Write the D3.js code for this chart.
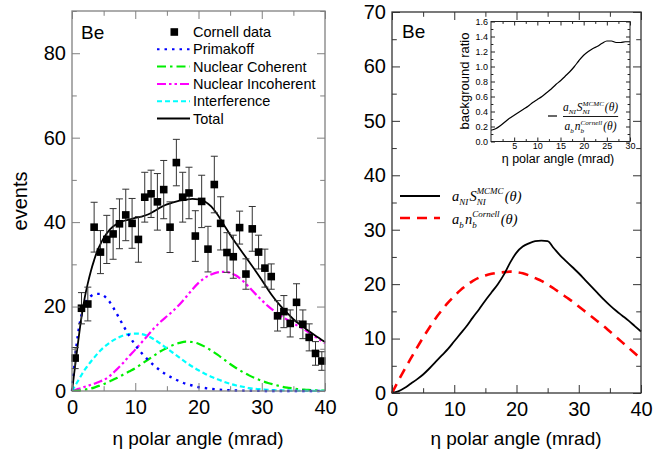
<!DOCTYPE html>
<html><head><meta charset="utf-8">
<script src="https://cdn.jsdelivr.net/npm/d3@7"></script>
<style>body{margin:0;background:#fff} svg text{font-family:"Liberation Sans",Arial,sans-serif}</style>
</head><body><svg id="c" width="653" height="457"></svg>
<script>
// ---------- DATA ----------
const dataX = [0.5,1.5,2.5,3.5,4.5,5.5,6.5,7.5,8.5,9.5,10.5,11.5,12.5,13.5,14.5,15.5,16.5,17.5,18.5,19.5,20.5,21.5,22.5,23.5,24.5,25.5,26.5,27.5,28.5,29.5,30.5,31.5,32.5,33.5,34.5,35.5,36.5,37.5,38.5,39.5];
const dataY = [7.8,19.6,20.6,38.8,32.9,35.9,37.2,39.6,41.7,39.7,35.9,45.9,46.7,44.8,47.7,38.8,54.1,45.9,46.9,36.7,44.9,33.6,48.9,39.7,32.8,31.8,38.7,27.7,38.4,32.9,29.1,27.1,17.8,18.8,16.0,21.0,15.8,12.7,8.9,7.1];
const dataErr = [2.5,3.7,4.0,5.9,5.1,5.7,6.0,5.9,6.1,5.9,5.4,5.9,5.6,6.7,6.9,6.0,5.5,5.9,6.1,6.0,6.2,5.4,6.7,6.3,4.7,5.1,3.9,3.6,5.3,4.0,4.5,3.0,3.6,3.8,3.2,4.4,3.4,3.2,2.8,2.2];

const gridX = [0,0.5,1,1.5,2,2.5,3,3.5,4,4.5,5,6,7,8,9,10,11,12,13,14,15,16,17,18,19,20,21,22,23,24,25,26,27,28,29,30,31,32,33,34,35,36,37,38,39,40];
const primakoff = [0,8,14,18,20.5,21.8,22.5,22.9,23,23,22.6,21,18.5,15.8,13.2,10.9,9,7.4,6,4.8,3.8,3,2.3,1.7,1.3,0.9,0.7,0.5,0.35,0.25,0.18,0.12,0.08,0.05,0.03,0.02,0.01,0,0,0,0,0,0,0,0,0];
const nuclearCoherent = [0,0.02,0.07,0.15,0.3,0.45,0.6,0.8,1.1,1.3,1.6,2.3,3,3.8,4.6,5.4,6.4,7.4,8.4,9.4,10.2,10.9,11.4,11.7,11.6,11.2,10.5,9.6,8.6,7.5,6.4,5.4,4.5,3.7,3,2.4,1.9,1.5,1.1,0.8,0.6,0.4,0.3,0.2,0.15,0.1];
const nuclearIncoherent = [0,0.2,0.5,0.7,1,1.2,1.5,1.7,2,2.3,2.6,3.6,5,6.5,8.2,9.8,11.5,13.2,14.9,16.4,17.7,19,20.5,22.2,24,25.6,26.8,27.6,28.1,28.2,28,27.3,26.1,24.6,23,21.5,20.1,18.9,17.8,16.9,16,15.2,14.3,13.3,12.3,11.3];
const interference = [0,1.3,2.5,3.8,5,6,7,7.9,8.8,9.6,10.3,11.5,12.4,13.1,13.5,13.6,13.5,13,12.2,11.2,10.1,9,7.9,6.8,5.8,4.9,4.1,3.4,2.8,2.2,1.7,1.3,1,0.7,0.5,0.4,0.3,0.2,0.15,0.1,0.08,0.06,0.04,0.03,0.02,0.01];
const total = [0,6,12,17.5,22,25.5,28.5,31,33.2,34.8,36.2,38.3,39.5,40.2,40.6,41,41.3,41.8,42.6,43.5,44.2,44.7,45.1,45.3,45.5,45.4,44.9,43.7,41.8,39.4,37,34.8,32.7,30.6,28.5,26.3,24,21.9,20.1,18.5,17,15.8,14.7,13.6,12.6,11.6];

const rightX = [0,1,2,3,4,5,6,7,8,9,10,11,12,13,14,15,16,17,18,19,20,21,22,23,24,25,26,27,28,29,30,31,32,33,34,35,36,37,38,39,40];
const niMCMC = [0,0.3,0.9,1.7,2.5,3.4,4.5,5.7,6.9,8.1,9.5,10.9,12.3,13.9,15.4,17,18.5,20,21.8,24,25.8,26.9,27.5,27.9,28,27.9,26.6,25.3,24.2,23.1,22,20.8,19.6,18.4,17.2,16.1,15.1,14.2,13.3,12.3,11.3];
const bCornell = [0,2.2,4.3,6.3,8.3,10.2,12,13.7,15.2,16.6,17.8,18.9,19.8,20.6,21.2,21.6,21.9,22.1,22.2,22.3,22.2,22,21.6,21.1,20.6,19.9,19.2,18.4,17.6,16.8,15.9,15,14.1,13.2,12.3,11.3,10.3,9.3,8.3,7.3,6.3];

const ratioX = [0,1,2,3,4,5,6,7,8,9,10,11,12,13,14,15,16,17,18,19,20,21,22,23,24,25,26,27,28,29,30];
const ratio = [0.15,0.17,0.21,0.26,0.31,0.35,0.39,0.43,0.47,0.52,0.56,0.6,0.65,0.7,0.76,0.81,0.87,0.93,1.0,1.08,1.15,1.2,1.24,1.27,1.31,1.34,1.34,1.32,1.32,1.33,1.33];

const leftYTicks = [0,20,40,60,80];
const rightYTicks = [0,10,20,30,40,50,60,70];
const xTicks = [0,10,20,30,40];
const insetYTicks = [0.0,0.2,0.4,0.6,0.8,1.0,1.2,1.4,1.6];
const insetXTicks = [5,10,15,20,25,30];
const legendLabels = ["Cornell data","Primakoff","Nuclear Coherent","Nuclear Incoherent","Interference","Total"];

// ---------- DRAW ----------
const svg = d3.select('#c');
const SANS = '"Liberation Sans",Arial,sans-serif';
const MATH = '"Liberation Serif","Times New Roman",serif';

function frameAxes(g, x, y, opt) {
  const [x0,x1] = x.range(), [y0,y1] = y.range();
  const col = opt.color;
  const mk = (axis, tr, major, minor, size, fmt, pad, fs) => {
    const a1 = g.append('g').attr('transform', tr).call(axis(major).tickSize(-size).tickPadding(pad).tickFormat(fmt));
    const a2 = g.append('g').attr('transform', tr).call(axis(minor).tickSize(-size*0.6).tickFormat(''));
    [a1,a2].forEach(a => { a.attr('font-family', null); a.select('.domain').remove(); a.selectAll('line').attr('stroke', col); a.selectAll('text').attr('font-size', fs).attr('fill','#000').style('font-family', SANS); });
    return a1;
  };
  const T = opt.tick;
  mk(v => d3.axisBottom(x).tickValues(v), `translate(0,${y0})`, opt.xMajor, opt.xMinor, T, opt.xFmt, opt.xPad, opt.fs);
  mk(v => d3.axisTop(x).tickValues(v), `translate(0,${y1})`, opt.xMajor, opt.xMinor, T, '', 0, opt.fs);
  mk(v => d3.axisLeft(y).tickValues(v), `translate(${x0},0)`, opt.yMajor, opt.yMinor, T, opt.yFmt, opt.yPad, opt.fs);
  mk(v => d3.axisRight(y).tickValues(v), `translate(${x1},0)`, opt.yMajor, opt.yMinor, T, '', 0, opt.fs);
  g.append('rect').attr('x',x0).attr('y',y1).attr('width',x1-x0).attr('height',y0-y1)
    .attr('fill','none').attr('stroke',col).attr('stroke-width',opt.sw||1.3);
}

function mathText(g, x, y, parts, size) {
  let cx = x;
  const grp = g.append('g');
  parts.forEach(p => {
    if (p.t !== undefined) {
      const t = grp.append('text').attr('x',cx).attr('y',y).attr('font-size',size)
        .attr('font-style', p.i ? 'italic' : 'normal').style('font-family', MATH).text(p.t);
      cx += t.node().getComputedTextLength();
    } else {
      let w = 0;
      if (p.sub) { const t = grp.append('text').attr('x',cx).attr('y',y+size*0.28).attr('font-size',size*0.62).attr('font-style','italic').style('font-family',MATH).text(p.sub); w = Math.max(w,t.node().getComputedTextLength()); }
      if (p.sup) { const t = grp.append('text').attr('x',cx).attr('y',y-size*0.45).attr('font-size',size*0.62).attr('font-style','italic').style('font-family',MATH).text(p.sup); w = Math.max(w,t.node().getComputedTextLength()); }
      cx += w + size*0.08;
    }
  });
  return {g: grp, w: cx - x};
}
const numParts = [{t:'a',i:true},{sub:'NI'},{t:'S',i:true},{sub:'NI',sup:'MCMC'},{t:'(θ)',i:true}];
const denParts = [{t:'a',i:true},{sub:'b'},{t:'n',i:true},{sub:'b',sup:'Cornell'},{t:'(θ)',i:true}];

// ===== LEFT PANEL =====
const xL = d3.scaleLinear().domain([0,40]).range([72,325]);
const yL = d3.scaleLinear().domain([0,90]).range([391,11]);
const gL = svg.append('g');

const lineL = (ys) => d3.line().x((d,i)=>xL(gridX[i])).y(d=>yL(d)).curve(d3.curveMonotoneX)(ys);
const seriesStyles = [
  {v: nuclearIncoherent, c:'#ff00ff', dash:'9,3,2.5,3,2.5,3', w:2.2},
  {v: nuclearCoherent, c:'#00ee00', dash:'9,4,2.5,4', w:2.2},
  {v: interference, c:'#00ffff', dash:'5,3', w:2.2},
  {v: primakoff, c:'#0000ff', dash:'2.5,5', w:2.4},
  {v: total, c:'#000000', dash:null, w:1.8}
];
seriesStyles.forEach(s => {
  gL.append('path').attr('d', lineL(s.v)).attr('fill','none').attr('stroke',s.c)
    .attr('stroke-width',s.w).attr('stroke-dasharray',s.dash);
});

// error bars & markers
const eb = gL.append('g').attr('stroke','#333').attr('stroke-width',1);
dataX.forEach((x,i) => {
  const cx = xL(x), top = yL(dataY[i]+dataErr[i]), bot = yL(Math.max(0,dataY[i]-dataErr[i]));
  eb.append('line').attr('x1',cx).attr('x2',cx).attr('y1',top).attr('y2',bot);
  eb.append('line').attr('x1',cx-3.5).attr('x2',cx+3.5).attr('y1',top).attr('y2',top);
  eb.append('line').attr('x1',cx-3.5).attr('x2',cx+3.5).attr('y1',bot).attr('y2',bot);
});
gL.selectAll('rect.pt').data(dataX).join('rect').attr('class','pt')
  .attr('x',(d)=>xL(d)-3.8).attr('y',(d,i)=>yL(dataY[i])-3.8).attr('width',7.6).attr('height',7.6).attr('fill','#000');

frameAxes(gL, xL, yL, {color:'#808080', tick:8, xMajor:xTicks, xMinor:[5,15,25,35], yMajor:leftYTicks, yMinor:[10,30,50,70,90],
  xFmt:d3.format('d'), yFmt:d3.format('d'), xPad:9, yPad:6, fs:20});

gL.append('text').attr('x',81).attr('y',39).attr('font-size',19).text('Be');
gL.append('text').attr('transform','translate(27,201) rotate(-90)').attr('text-anchor','middle').attr('font-size',20).text('events');
gL.append('text').attr('x',198).attr('y',445).attr('text-anchor','middle').attr('font-size',19).text('η polar angle (mrad)');

// legend
const lg = gL.append('g');
const legY0 = 32, legDY = 17.3;
legendLabels.forEach((lab,i) => {
  const y = legY0 + i*legDY;
  lg.append('text').attr('x',193).attr('y',y+5).attr('font-size',14.5).text(lab);
  if (i===0) {
    lg.append('rect').attr('x',170.5).attr('y',y-3.8).attr('width',7.6).attr('height',7.6).attr('fill','#000');
  } else {
    const s = [null, seriesStyles[3], seriesStyles[1], seriesStyles[0], seriesStyles[2], seriesStyles[4]][i];
    lg.append('line').attr('x1',157).attr('x2',190).attr('y1',y).attr('y2',y).attr('stroke',s.c)
      .attr('stroke-width', i===5 ? 1.8 : 2).attr('stroke-dasharray', s.dash);
  }
});

// ===== RIGHT PANEL =====
const xR = d3.scaleLinear().domain([0,40]).range([392,641]);
const yR = d3.scaleLinear().domain([0,70]).range([393,12]);
const gR = svg.append('g');
const lineR = (ys) => d3.line().x((d,i)=>xR(rightX[i])).y(d=>yR(d)).curve(d3.curveMonotoneX)(ys);
gR.append('path').attr('d', lineR(bCornell)).attr('fill','none').attr('stroke','#ff0000').attr('stroke-width',2.6).attr('stroke-dasharray','10,7');
gR.append('path').attr('d', lineR(niMCMC)).attr('fill','none').attr('stroke','#000').attr('stroke-width',1.8);

frameAxes(gR, xR, yR, {color:'#333', tick:8, xMajor:xTicks, xMinor:[5,15,25,35], yMajor:rightYTicks, yMinor:[5,15,25,35,45,55,65],
  xFmt:d3.format('d'), yFmt:d3.format('d'), xPad:9, yPad:6, fs:20});
gR.append('text').attr('x',402).attr('y',38).attr('font-size',19).text('Be');
gR.append('text').attr('x',516).attr('y',445).attr('text-anchor','middle').attr('font-size',19).text('η polar angle (mrad)');

// right legend
gR.append('line').attr('x1',400).attr('x2',440).attr('y1',196).attr('y2',196).attr('stroke','#000').attr('stroke-width',1.8);
gR.append('line').attr('x1',400).attr('x2',440).attr('y1',218).attr('y2',218).attr('stroke','#ff0000').attr('stroke-width',2.6).attr('stroke-dasharray','10,7');
mathText(gR, 452, 201, numParts, 14.5);
mathText(gR, 452, 224, denParts, 14.5);

// ===== INSET =====
const xI = d3.scaleLinear().domain([0,30]).range([491,630]);
const yI = d3.scaleLinear().domain([0,1.6]).range([141.5,21.5]);
const gI = svg.append('g');
gI.append('rect').attr('x',491).attr('y',21.5).attr('width',139).attr('height',120).attr('fill','#fff');
gI.append('path').attr('d', d3.line().x((d,i)=>xI(ratioX[i])).y(d=>yI(d)).curve(d3.curveMonotoneX)(ratio))
  .attr('fill','none').attr('stroke','#000').attr('stroke-width',1.2);
frameAxes(gI, xI, yI, {color:'#222', tick:4, xMajor:insetXTicks, xMinor:[2.5,7.5,12.5,17.5,22.5,27.5], yMajor:insetYTicks, yMinor:[0.1,0.3,0.5,0.7,0.9,1.1,1.3,1.5],
  xFmt:d3.format('d'), yFmt:d3.format('.1f'), xPad:1.5, yPad:3, fs:9, sw:1});
gI.append('text').attr('transform','translate(469,81) rotate(-90)').attr('text-anchor','middle').attr('font-size',13).text('background ratio');
gI.append('text').attr('x',558).attr('y',163).attr('text-anchor','middle').attr('font-size',12.5).text('η polar angle (mrad)');
// inset legend
gI.append('line').attr('x1',548).attr('x2',557).attr('y1',116).attr('y2',116).attr('stroke','#000').attr('stroke-width',1.2);
const num = mathText(gI, 0, 111, numParts, 11.5);
const den = mathText(gI, 0, 130, denParts, 11.5);
const fw = Math.max(num.w, den.w), fx = 563;
num.g.attr('transform', `translate(${fx + (fw-num.w)/2},0)`);
den.g.attr('transform', `translate(${fx + (fw-den.w)/2},0)`);
gI.append('line').attr('x1',fx).attr('x2',fx+fw).attr('y1',116.5).attr('y2',116.5).attr('stroke','#000').attr('stroke-width',0.9);
</script></body></html>
